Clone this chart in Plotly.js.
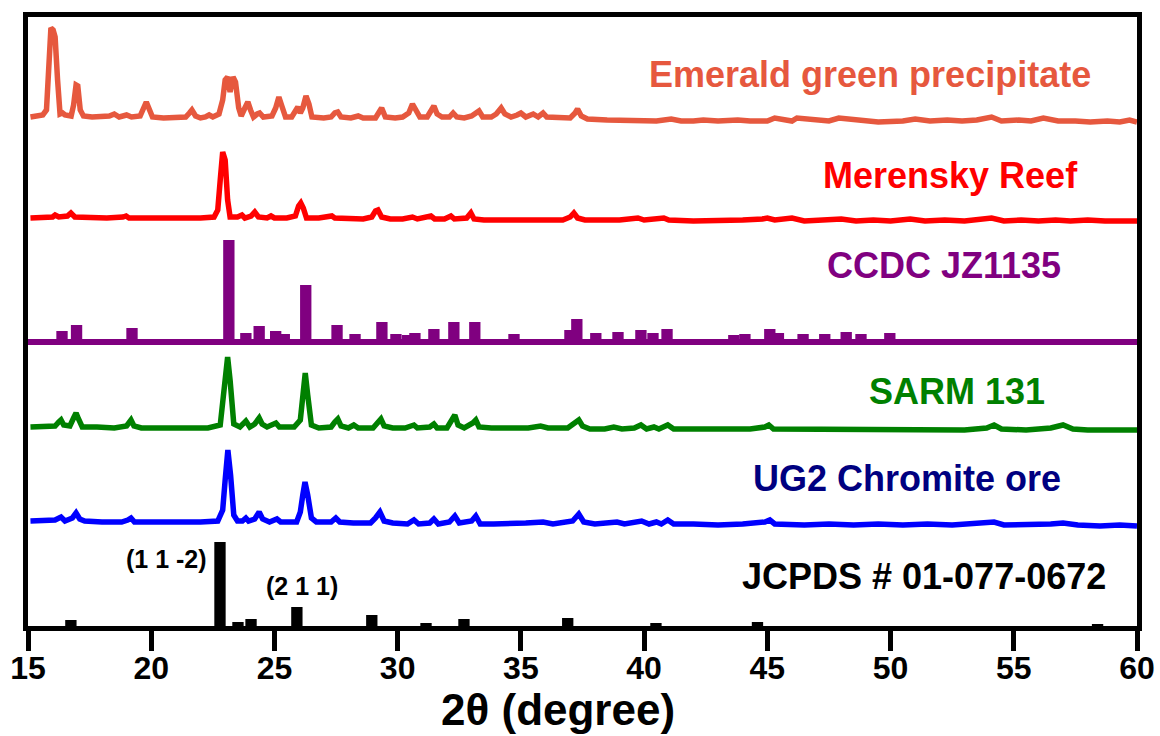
<!DOCTYPE html>
<html>
<head>
<meta charset="utf-8">
<script src="https://cdn.plot.ly/plotly-3.0.1.min.js"></script>
<style>html,body{margin:0;padding:0;background:#fff;}#chart{width:1160px;height:736px;}</style>
</head>
<body>
<div id="chart"></div>
<script>
// ---- Data (2θ in degrees, intensity in arbitrary units) ----
const emeraldTheta = [15.1,15.4,15.6,15.75,15.85,15.93,16.02,16.1,16.2,16.3,16.4,16.5,16.75,16.85,16.95,17.02,17.12,17.25,17.6,18.0,18.3,18.5,18.7,19.0,19.2,19.55,19.7,19.8,19.9,20.05,20.5,21.0,21.4,21.55,21.65,21.8,22.0,22.2,22.35,22.5,22.75,22.9,23.0,23.1,23.2,23.32,23.42,23.55,23.65,23.8,23.92,24.03,24.15,24.3,24.4,24.55,24.9,25.05,25.18,25.3,25.45,25.7,25.85,25.95,26.05,26.15,26.28,26.4,26.52,27.0,27.3,27.45,27.57,27.7,28.1,28.4,28.6,29.1,29.25,29.35,29.5,29.9,30.2,30.45,30.6,30.75,30.9,31.2,31.35,31.47,31.6,31.8,32.1,32.25,32.4,32.7,33.0,33.2,33.3,33.45,33.8,34.0,34.2,34.35,34.6,34.85,35.0,35.2,35.4,35.5,35.7,35.9,36.05,36.5,37.0,37.2,37.3,37.45,37.7,38.5,39.0,39.5,40.0,40.5,41.1,41.5,42.0,42.4,43.0,43.8,44.3,45.0,45.3,45.6,46.0,46.2,46.8,47.5,47.9,48.6,49.5,50.5,51.0,51.6,52.3,52.9,53.5,54.1,54.5,55.2,55.7,56.2,56.8,57.5,58.1,58.8,59.3,59.7,60.0];
const emeraldInt = [9,10,11,16,66,98,96,89,46,12,13,11,10,21,41,40,16,10,9,9,10,12,9,11,9,10,18,24,18,9,8,8,9,13,16,10,8,9,11,9,12,26,46,49,34,49,44,18,10,18,24,16,9,12,13,9,10,18,29,20,9,9,14,19,13,18,30,22,9,8,9,13,14,9,8,10,8,8,14,18,9,8,9,13,22,16,9,9,16,20,12,9,9,13,9,8,10,14,15,9,9,12,18,12,9,11,13,9,11,12,9,13,9,8,8,13,17,10,7,6,6,5,6,5,7,5,5,6,5,6,5,5,8,7,5,8,6,5,8,6,4,5,7,5,6,5,6,9,5,6,5,8,5,5,4,5,4,6,4];

const merenskyTheta = [15.1,15.5,16.0,16.1,16.25,16.6,16.74,16.9,17.5,18.2,18.85,18.98,19.1,20.0,21.0,22.0,22.55,22.7,22.8,22.9,23.0,23.1,23.2,23.5,23.68,23.8,24.05,24.2,24.35,24.7,24.86,25.0,25.5,25.85,25.98,26.07,26.17,26.3,26.8,27.2,27.33,27.45,28.1,28.6,28.95,29.1,29.2,29.35,29.7,30.2,30.6,30.8,31.35,31.5,31.9,32.16,32.3,32.8,32.97,33.1,33.5,34.0,34.5,35.0,35.5,36.0,36.7,37.0,37.15,37.3,37.6,38.3,39.0,39.75,40.0,40.8,41.0,42.0,43.0,44.0,44.8,45.0,45.3,46.0,46.5,47.2,48.0,48.6,49.3,50.0,50.8,51.4,52.2,53.0,53.6,54.1,54.6,55.3,56.0,56.7,57.3,58.0,58.7,59.4,60.0];
const merenskyInt = [6,6,7,9,7,8,11,7,6,6,7,8,6,6,5,6,7,14,44,72,64,24,7,7,9,6,8,12,7,6,8,6,6,8,18,21,16,6,6,7,8,6,6,5,7,13,14,7,5,5,7,5,8,5,5,8,5,6,11,5,4,4,5,4,4,4,4,7,11,6,4,4,4,6,4,6,4,3,3,4,5,6,4,6,3,4,5,3,4,3,5,3,4,3,4,6,3,4,3,4,3,4,3,3,3];

const ccdcTheta = [16.38,16.97,19.22,23.15,23.84,24.38,25.05,25.4,26.27,27.54,28.27,29.36,29.93,30.4,30.7,31.47,32.28,33.13,34.72,36.99,37.27,38.04,38.94,39.87,40.36,40.93,43.64,44.09,45.1,45.45,46.45,47.33,48.2,48.8,49.97];
const ccdcInt = [11,17,14,102,9,16,11,8,57,17,8,20,8,7,9,13,20,20,8,12,23,9,10,12,9,13,7,8,13,9,8,8,10,8,9];

const sarmTheta = [15.1,15.6,16.1,16.25,16.34,16.45,16.7,16.85,16.95,17.05,17.2,17.8,18.5,19.0,19.18,19.3,19.6,20.5,21.5,22.3,22.8,22.95,23.1,23.2,23.35,23.6,23.84,24.0,24.2,24.38,24.5,24.7,24.9,25.06,25.2,25.8,26.05,26.15,26.25,26.35,26.5,26.8,27.3,27.45,27.57,27.7,28.0,28.22,28.4,29.0,29.2,29.32,29.45,29.8,30.3,30.55,30.66,30.8,31.3,31.47,31.6,32.0,32.2,32.32,32.45,32.7,33.05,33.17,33.3,33.8,34.5,35.3,35.8,36.1,36.9,37.2,37.35,37.5,37.8,38.4,38.77,39.1,39.6,39.87,40.1,40.4,40.6,40.96,41.2,42.0,43.0,43.8,44.3,44.9,45.06,45.25,46.0,47.0,48.0,49.0,50.0,51.0,52.0,53.0,53.9,54.2,54.5,55.5,56.5,57.0,57.4,58.0,59.0,60.0];
const sarmInt = [5,5,6,10,12,7,6,14,19,13,5,5,4,6,12,6,4,4,4,4,7,37,75,52,8,5,11,5,8,14,8,5,7,9,5,5,12,37,59,37,7,4,5,10,13,6,4,7,4,4,10,13,6,4,4,6,7,4,5,8,4,4,11,17,7,4,9,12,5,4,4,4,6,4,4,9,12,6,3,3,5,3,4,7,3,5,3,7,3,3,3,4,3,5,7,3,3,2,3,2,3,2,3,2,4,7,3,2,4,7,3,2,2,2];

const ug2Theta = [15.1,15.6,16.1,16.34,16.5,16.8,16.95,17.1,17.3,18.0,18.8,19.05,19.18,19.32,20.0,21.0,22.0,22.7,22.9,23.0,23.11,23.22,23.35,23.5,23.7,23.84,23.95,24.2,24.38,24.52,24.8,25.1,25.25,25.9,26.05,26.15,26.24,26.35,26.5,26.7,27.3,27.49,27.65,28.2,28.9,29.1,29.28,29.45,29.8,30.4,30.66,30.85,31.3,31.47,31.65,32.1,32.32,32.5,33.0,33.17,33.35,33.9,34.5,35.2,35.9,36.3,37.1,37.35,37.55,38.0,38.9,39.2,39.9,40.2,40.5,40.7,40.96,41.2,42.0,43.0,44.0,44.9,45.1,45.3,46.5,47.5,48.5,49.5,50.5,51.5,52.5,53.5,54.2,54.6,55.5,56.5,57.0,57.6,58.5,59.3,60.0];
const ug2Int = [7,7,8,11,7,10,15,9,7,6,6,8,10,6,6,5,6,7,18,48,78,53,13,7,7,10,7,9,16,9,6,9,6,6,16,33,46,33,10,6,6,10,6,5,5,10,16,7,5,4,8,4,5,9,4,6,12,5,7,12,4,4,4,5,6,4,7,14,6,4,6,4,7,4,6,4,8,4,4,3,4,6,8,4,3,4,3,4,3,4,3,4,6,3,3,4,5,3,2,3,2];

const jcpdsTheta = [16.74,22.79,23.52,24.05,25.91,28.95,31.15,32.69,36.9,40.48,44.6,58.4];
const jcpdsInt = [6,84,4,7,19,11,3,7,8,3,4,2];

const seriesNames = ["Emerald green precipitate","Merensky Reef","CCDC JZ1135","SARM 131","UG2 Chromite ore","JCPDS # 01-077-0672"];
const hklLabels = ["(1 1 -2)","(2 1 1)"];
const hklTheta = [22.79, 25.91];
const xTicks = [15,20,25,30,35,40,45,50,55,60];
const xTitle = "2θ (degree)";

// ---- Layout constants (vertical stacking offsets, styles) ----
const offsets = {emerald:500, merensky:402, ccdc:284, sarm:194, ug2:98, jcpds:0};
const colors = {emerald:"#E6583E", merensky:"#FF0000", ccdc:"#800080", sarm:"#008000", ug2line:"#0000FF", ug2text:"#000080", jcpds:"#000000"};
const FONT = "Liberation Sans, Arial, sans-serif";
const LW = 5.5;

function shift(arr, off){ return arr.map(v => v + off); }
function lineTrace(x, y, off, color){
  return {type:"scatter", mode:"lines", x:x, y:shift(y, off), line:{color:color, width:LW}, hoverinfo:"skip", showlegend:false};
}
function barTrace(x, y, off, color){
  return {type:"bar", x:x, y:y, base:x.map(()=>off), width:0.46, marker:{color:color, line:{width:0}}, hoverinfo:"skip", showlegend:false};
}

const data = [
  lineTrace(emeraldTheta, emeraldInt, offsets.emerald, colors.emerald),
  lineTrace(merenskyTheta, merenskyInt, offsets.merensky, colors.merensky),
  barTrace(ccdcTheta, ccdcInt, offsets.ccdc, colors.ccdc),
  {type:"scatter", mode:"lines", x:[15,60], y:[offsets.ccdc, offsets.ccdc], line:{color:colors.ccdc, width:6}, hoverinfo:"skip", showlegend:false},
  lineTrace(sarmTheta, sarmInt, offsets.sarm, colors.sarm),
  lineTrace(ug2Theta, ug2Int, offsets.ug2, colors.ug2line),
  barTrace(jcpdsTheta, jcpdsInt, offsets.jcpds, colors.jcpds)
];

function label(text, x, y, color, size, anchor){
  return {text:text, x:x, y:y, xref:"x", yref:"y", xanchor:anchor||"right", yanchor:"middle", showarrow:false,
          font:{family:FONT, size:size, color:color, weight:"bold"}};
}

const annotations = [
  label(seriesNames[0], 58.22, 552, colors.emerald, 36),
  label(seriesNames[1], 57.69, 451, colors.merensky, 36),
  label(seriesNames[2], 57.0, 361, colors.ccdc, 36),
  label(seriesNames[3], 56.36, 235, colors.sarm, 36),
  label(seriesNames[4], 57.0, 148, colors.ug2text, 36),
  label(seriesNames[5], 58.83, 50, colors.jcpds, 36),
  label(hklLabels[0], hklTheta[0] - 0.45, 67, "#000", 25),
  label(hklLabels[1], hklTheta[1] + 0.2, 40, "#000", 25, "center"),
  {text:xTitle, xref:"paper", yref:"paper", x:0.478, y:-0.137, xanchor:"center", yanchor:"middle", showarrow:false,
   font:{family:FONT, size:44, color:"#000", weight:"bold"}}
];

const layout = {
  width:1160, height:736,
  margin:{l:28, r:23, t:17, b:110},
  paper_bgcolor:"#ffffff", plot_bgcolor:"#ffffff",
  barmode:"overlay",
  showlegend:false,
  font:{family:FONT, color:"#000"},
  xaxis:{range:[15,60], tickvals:xTicks, ticktext:xTicks.map(String), ticks:"outside", ticklen:20, tickwidth:5, tickcolor:"#000",
         ticklabelstandoff:-10,
         showline:true, linewidth:5, linecolor:"#000", mirror:true, showgrid:false, zeroline:false,
         tickfont:{family:FONT, size:32, color:"#000", weight:"bold"}},
  yaxis:{range:[0,609], showline:true, linewidth:5, linecolor:"#000", mirror:true, ticks:"", showticklabels:false,
         showgrid:false, zeroline:false},
  annotations:annotations
};

Plotly.newPlot("chart", data, layout, {staticPlot:true, displayModeBar:false});
</script>
</body>
</html>
